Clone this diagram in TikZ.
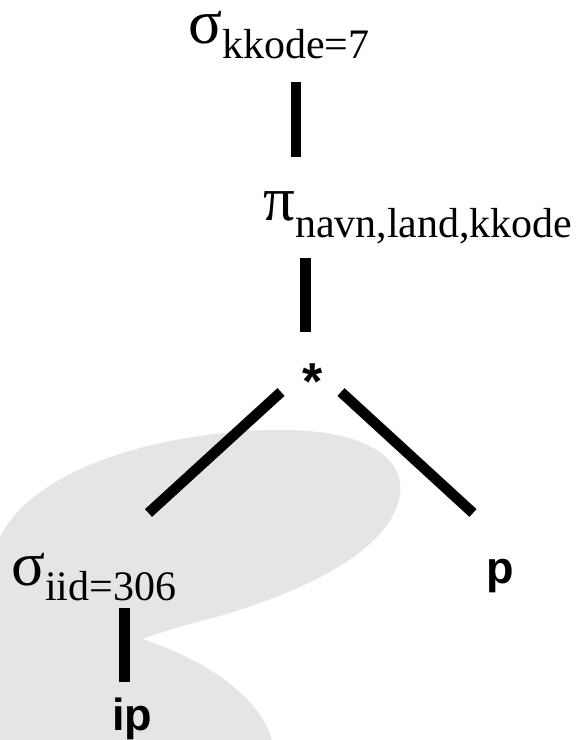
\documentclass[tikz,border=0pt]{standalone}
\usepackage{fontspec}
\setmainfont{Liberation Serif}
\setsansfont{Liberation Sans}

% operator symbol with a lowered subscript
\newcommand{\opsym}[1]{\smash{\fontsize{63}{63}\selectfont #1}}
\newcommand{\opsub}[2]{\raisebox{-#1pt}{\fontsize{42}{42}\selectfont #2}}

\tikzset{
  opnode/.style={anchor=base west, inner sep=0pt},
  relnode/.style={anchor=base west, inner sep=0pt, font=\sffamily\bfseries\fontsize{45}{45}\selectfont},
  edge/.style={line width=10.5pt, line cap=butt, black},
  blob/.style={fill=black!10, draw=none}
}

\begin{document}
\begin{tikzpicture}[x=1pt, y=-1pt]
  \useasboundingbox (0,0) rectangle (587,740);

  % light background swoosh
  \path[blob] (0,537) .. controls (40,458) and (190,428) .. (290,430)
    .. controls (370,432) and (405,460) .. (400,495)
    .. controls (392,545) and (320,585) .. (230,613)
    .. controls (195,623) and (165,630) .. (143,639)
    .. controls (210,662) and (260,698) .. (272,740)
    -- (0,740) -- cycle;

  % operator and relation nodes
  \node[opnode] (sel1) at (188,43) {\opsym{σ}\opsub{15}{kkode=7}};
  \node[opnode] (proj) at (263,220) {\opsym{π}\opsub{17}{navn,land,kkode}};
  \node[anchor=center, inner sep=0pt, font=\sffamily\bfseries\fontsize{52}{52}\selectfont] (join) at (312.5,382) {*};
  \node[opnode] (sel2) at (11,585) {\opsym{σ}\opsub{15}{iid=306}};
  \node[relnode] (ip) at (112,730) {ip};
  \node[relnode] (p) at (486,583) {p};

  % connector end points
  \coordinate (sel1-b) at (296,82);
  \coordinate (proj-t) at (296,157);
  \coordinate (proj-b) at (305.5,258);
  \coordinate (join-t) at (305.5,332);
  \coordinate (join-l) at (281,392);
  \coordinate (sel2-t) at (148.5,513);
  \coordinate (join-r) at (341,392);
  \coordinate (p-t) at (473,513);
  \coordinate (sel2-b) at (124.5,608);
  \coordinate (ip-t) at (124.5,682);

  % tree edges
  \draw[edge] (sel1-b) -- (proj-t);
  \draw[edge] (proj-b) -- (join-t);
  \draw[edge] (join-l) -- (sel2-t);
  \draw[edge] (join-r) -- (p-t);
  \draw[edge] (sel2-b) -- (ip-t);
\end{tikzpicture}
\end{document}
